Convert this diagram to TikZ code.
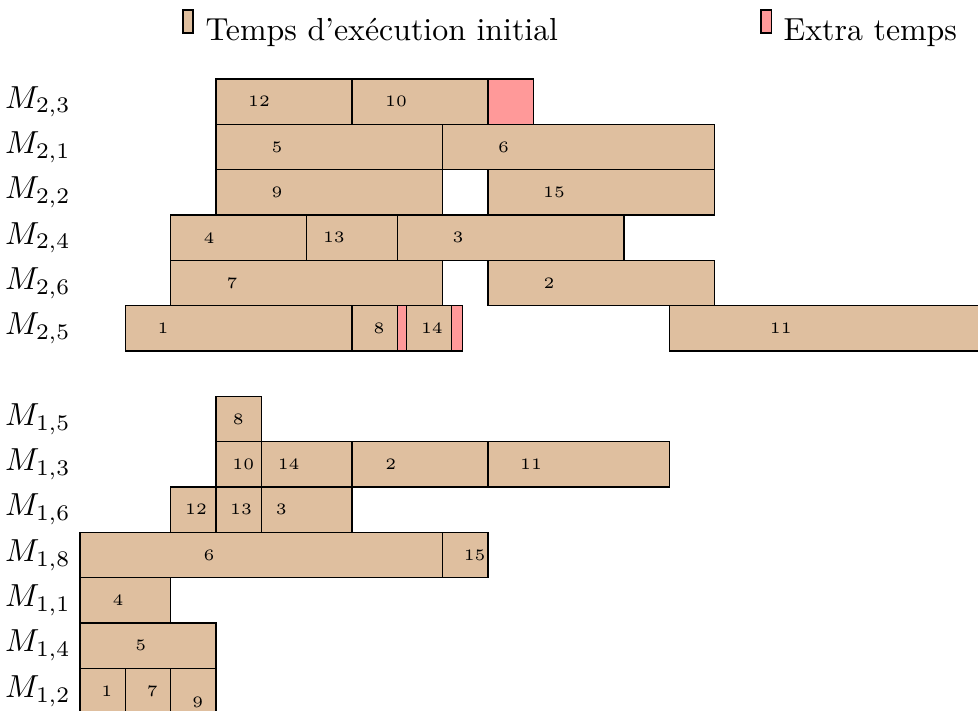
\documentclass[tikz,border=0pt]{standalone}
\begin{document}
\begin{tikzpicture}[x=0.5cm,y=-0.5cm,
  task/.style={draw=black, fill=brown!50, line width=0.4pt},
  extra/.style={draw=black, fill=red!40, line width=0.4pt},
  num/.style={font=\tiny, inner sep=0pt},
  mach/.style={inner sep=0pt}]
\clip (-1.765,-1.743) rectangle (19.81,13.94);
% legend
\draw[task] (2.272,-1.522) rectangle (2.493,-1.015);
\node[anchor=base west, inner sep=0pt] (leg1) at (2.757,-0.845) {Temps d’exécution initial};
\draw[extra] (15.02,-1.522) rectangle (15.26,-1.015);
\node[anchor=base west, inner sep=0pt] (leg2) at (15.51,-0.845) {Extra temps};
% machine labels
\node[mach] (m23) at (-0.93,0.5) {$M_{2,3}$};
\node[mach] (m21) at (-0.93,1.5) {$M_{2,1}$};
\node[mach] (m22) at (-0.93,2.5) {$M_{2,2}$};
\node[mach] (m24) at (-0.93,3.5) {$M_{2,4}$};
\node[mach] (m26) at (-0.93,4.5) {$M_{2,6}$};
\node[mach] (m25) at (-0.93,5.5) {$M_{2,5}$};
\node[mach] (m15) at (-0.93,7.5) {$M_{1,5}$};
\node[mach] (m13) at (-0.93,8.5) {$M_{1,3}$};
\node[mach] (m16) at (-0.93,9.5) {$M_{1,6}$};
\node[mach] (m18) at (-0.93,10.5) {$M_{1,8}$};
\node[mach] (m11) at (-0.93,11.5) {$M_{1,1}$};
\node[mach] (m14) at (-0.93,12.5) {$M_{1,4}$};
\node[mach] (m12) at (-0.93,13.5) {$M_{1,2}$};
% M_{2,3}
\draw[task] (3,0) rectangle (6,1);
\draw[task] (6,0) rectangle (9,1);
\draw[extra] (9,0) rectangle (10,1);
\node[num] (a12) at (3.949,0.5) {12};
\node[num] (a10) at (6.971,0.5) {10};
% M_{2,1}
\draw[task] (3,1) rectangle (8,2);
\draw[task] (8,1) rectangle (14,2);
\node[num] (a5) at (4.346,1.5) {5};
\node[num] (a6) at (9.345,1.5) {6};
% M_{2,2}
\draw[task] (3,2) rectangle (8,3);
\draw[task] (9,2) rectangle (14,3);
\node[num] (a9) at (4.346,2.5) {9};
\node[num] (a15) at (10.457,2.5) {15};
% M_{2,4}
\draw[task] (2,3) rectangle (5,4);
\draw[task] (5,3) rectangle (7,4);
\draw[task] (7,3) rectangle (12,4);
\node[num] (a4) at (2.846,3.5) {4};
\node[num] (a13) at (5.603,3.5) {13};
\node[num] (a3) at (8.339,3.5) {3};
% M_{2,6}
\draw[task] (2,4) rectangle (8,5);
\draw[task] (9,4) rectangle (14,5);
\node[num] (a7) at (3.353,4.5) {7};
\node[num] (a2) at (10.346,4.5) {2};
% M_{2,5}
\draw[task] (1,5) rectangle (6,6);
\draw[task] (6,5) rectangle (7,6);
\draw[extra] (7,5) rectangle (7.2,6);
\draw[task] (7.2,5) rectangle (8.2,6);
\draw[extra] (8.2,5) rectangle (8.44,6);
\draw[task] (13,5) rectangle (20.5,6);
\node[num] (a1) at (1.831,5.5) {1};
\node[num] (a8) at (6.596,5.5) {8};
\node[num] (a14) at (7.765,5.5) {14};
\node[num] (a11) at (15.46,5.5) {11};
% M_{1,5}
\draw[task] (3,7) rectangle (4,8);
\node[num] (b8) at (3.492,7.5) {8};
% M_{1,3}
\draw[task] (3,8) rectangle (4,9);
\draw[task] (4,8) rectangle (6,9);
\draw[task] (6,8) rectangle (9,9);
\draw[task] (9,8) rectangle (13,9);
\node[num] (b10) at (3.603,8.5) {10};
\node[num] (b14) at (4.604,8.5) {14};
\node[num] (b2) at (6.854,8.5) {2};
\node[num] (b11) at (9.949,8.5) {11};
% M_{1,6}
\draw[task] (2,9) rectangle (3,10);
\draw[task] (3,9) rectangle (4,10);
\draw[task] (4,9) rectangle (6,10);
\node[num] (b12) at (2.559,9.5) {12};
\node[num] (b13) at (3.552,9.5) {13};
\node[num] (b3) at (4.441,9.5) {3};
% M_{1,8}
\draw[task] (0,10) rectangle (8,11);
\draw[task] (8,10) rectangle (9,11);
\node[num] (b6) at (2.846,10.5) {6};
\node[num] (b15) at (8.707,10.5) {15};
% M_{1,1}
\draw[task] (0,11) rectangle (2,12);
\node[num] (b4) at (0.838,11.5) {4};
% M_{1,4}
\draw[task] (0,12) rectangle (3,13);
\node[num] (b5) at (1.339,12.5) {5};
% M_{1,2}
\draw[task] (0,13) rectangle (1,14.3);
\draw[task] (1,13) rectangle (2,14.3);
\draw[task] (2,13) rectangle (3,14.3);
\node[num] (b1) at (0.589,13.5) {1};
\node[num] (b7) at (1.595,13.5) {7};
\node[num] (b9) at (2.596,13.76) {9};
\end{tikzpicture}
\end{document}
